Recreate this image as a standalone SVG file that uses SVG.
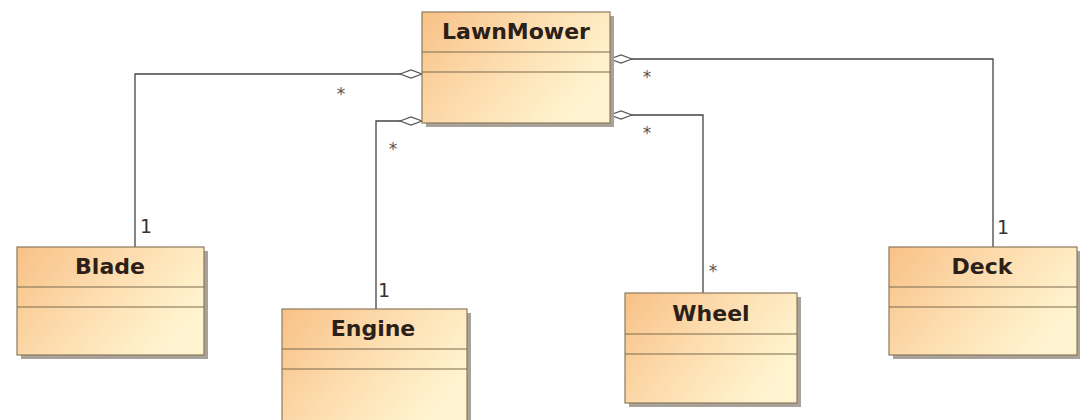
<svg xmlns="http://www.w3.org/2000/svg" width="1080" height="420" viewBox="0 0 1080 420">
  <defs>
    <linearGradient id="classFill" x1="0" y1="0" x2="1" y2="0.5">
      <stop offset="0" stop-color="#f8c186"/>
      <stop offset="0.5" stop-color="#fddcae"/>
      <stop offset="1" stop-color="#fff4cf"/>
    </linearGradient>
    <marker id="aggregation" viewBox="0 0 24 10" refX="23" refY="5" markerWidth="24" markerHeight="10" markerUnits="userSpaceOnUse" orient="auto">
      <path d="M1,5 L12,1 L23,5 L12,9 Z" fill="#ffffff" stroke="#555555" stroke-width="1.2"/>
    </marker>
  </defs>
  <style>
    .shadow { fill: #a8a29a; }
    .box { fill: url(#classFill); stroke: #8c7a5c; stroke-width: 1.2; }
    .div { stroke: #7a6a4e; stroke-width: 1.2; }
    .name { font-family: "DejaVu Sans", Verdana, sans-serif; font-weight: bold; font-size: 22px; fill: #2a2018; text-anchor: middle; }
    .mult { font-family: "DejaVu Sans", Verdana, sans-serif; font-size: 19px; fill: #333333; }
    .star { font-family: "DejaVu Sans", Verdana, sans-serif; font-size: 17px; fill: #555555; text-anchor: middle; }
    .edge { fill: none; stroke: #444444; stroke-width: 1.3; marker-end: url(#aggregation); }
  </style>
  <rect width="1080" height="420" fill="#ffffff"/>

  <!-- associations (whole end on LawnMower) -->
  <g id="connectors">
    <path class="edge" d="M135,247 V74 H422"/>
    <path class="edge" d="M376,309 V121 H422"/>
    <path class="edge" d="M703,293 V115 H610"/>
    <path class="edge" d="M993,247 V59 H610"/>
    <text class="star" x="341" y="100">*</text>
    <text class="mult" x="140" y="233">1</text>
    <text class="star" x="393" y="155">*</text>
    <text class="mult" x="378" y="297">1</text>
    <text class="star" x="647" y="139">*</text>
    <text class="star" x="713" y="277">*</text>
    <text class="star" x="647" y="83">*</text>
    <text class="mult" x="997" y="234">1</text>
  </g>

  <g id="LawnMower">
    <rect class="shadow" x="426" y="16" width="188" height="111"/>
    <rect class="box" x="422" y="12" width="188" height="111"/>
    <line class="div" x1="422" y1="52" x2="610" y2="52"/>
    <line class="div" x1="422" y1="72" x2="610" y2="72"/>
    <text class="name" x="516" y="39">LawnMower</text>
  </g>

  <g id="Blade">
    <rect class="shadow" x="21" y="251" width="187" height="108"/>
    <rect class="box" x="17" y="247" width="187" height="108"/>
    <line class="div" x1="17" y1="287" x2="204" y2="287"/>
    <line class="div" x1="17" y1="307" x2="204" y2="307"/>
    <text class="name" x="110" y="274">Blade</text>
  </g>

  <g id="Engine">
    <rect class="shadow" x="286" y="313" width="185" height="112"/>
    <rect class="box" x="282" y="309" width="185" height="116"/>
    <line class="div" x1="282" y1="349" x2="467" y2="349"/>
    <line class="div" x1="282" y1="369" x2="467" y2="369"/>
    <text class="name" x="373" y="336">Engine</text>
  </g>

  <g id="Wheel">
    <rect class="shadow" x="629" y="297" width="172" height="110"/>
    <rect class="box" x="625" y="293" width="172" height="110"/>
    <line class="div" x1="625" y1="334" x2="797" y2="334"/>
    <line class="div" x1="625" y1="354" x2="797" y2="354"/>
    <text class="name" x="711" y="321">Wheel</text>
  </g>

  <g id="Deck">
    <rect class="shadow" x="893" y="251" width="188" height="108"/>
    <rect class="box" x="889" y="247" width="188" height="108"/>
    <line class="div" x1="889" y1="287" x2="1077" y2="287"/>
    <line class="div" x1="889" y1="307" x2="1077" y2="307"/>
    <text class="name" x="982" y="274">Deck</text>
  </g>
</svg>
